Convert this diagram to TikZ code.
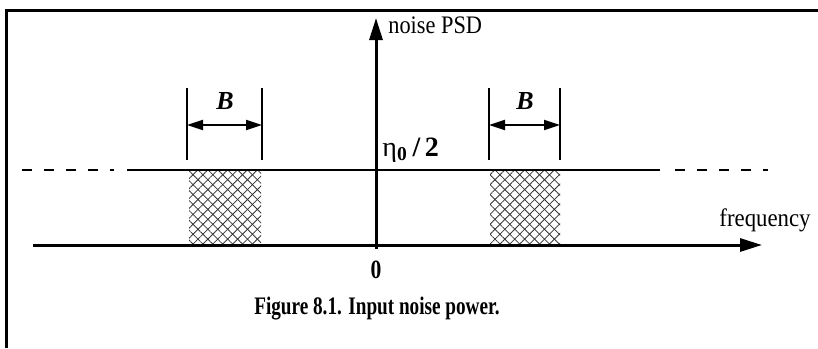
\documentclass[tikz,border=0pt]{standalone}
\usepackage{fontspec}
\setmainfont{Liberation Serif}
\usetikzlibrary{arrows.meta,patterns.meta}
\begin{document}
\begin{tikzpicture}[x=0.5pt,y=-0.5pt,
  frame/.style={line width=1.5pt},
  axis/.style={line width=1.5pt,-{Triangle[length=11pt,width=6.5pt]}},
  level/.style={line width=1pt},
  lvldash/.style={line width=1pt,dash pattern=on 5pt off 6pt},
  bracket/.style={line width=1pt},
  barrow/.style={line width=1pt,{Triangle[length=8pt,width=5pt]}-{Triangle[length=8pt,width=5pt]}},
  hatchA/.style={pattern={Lines[angle=45,distance=3.5pt,line width=0.4pt]},pattern color=black!80},
  hatchB/.style={pattern={Lines[angle=-45,distance=3.5pt,line width=0.4pt]},pattern color=black!80},
  lbl/.style={inner sep=0pt,font=\fontsize{12}{14}\selectfont},
  blbl/.style={inner sep=0pt,font=\fontsize{12}{14}\selectfont\bfseries}]
\useasboundingbox (0,0) rectangle (818,348);
% frame
\draw[frame] (6,348) -- (6,10) -- (818,10);
% hatched bands
\foreach \a/\b in {189/261, 490/560} {
  \fill[hatchA] (\a,170) rectangle (\b,245);
  \fill[hatchB] (\a,170) rectangle (\b,245);
}
% noise level
\draw[lvldash] (22,170) -- (114,170);
\draw[level] (127,170) -- (660,170);
\draw[lvldash] (675,170) -- (768,170);
% axes
\coordinate (hstart) at (33,245);
\coordinate (hend) at (762,245);
\coordinate (vstart) at (376,249);
\coordinate (vend) at (376,18);
\draw[axis] (hstart) -- (hend);
\draw[axis] (vstart) -- (vend);
% brackets
\foreach \n/\a/\b in {L/187/262, R/489/560} {
  \coordinate (\n a1) at (\a,88);
  \coordinate (\n a2) at (\a,160);
  \coordinate (\n b1) at (\b,88);
  \coordinate (\n b2) at (\b,160);
  \coordinate (\n ar1) at (\a,125);
  \coordinate (\n ar2) at (\b,125);
  \draw[bracket] (\n a1) -- (\n a2);
  \draw[bracket] (\n b1) -- (\n b2);
  \draw[barrow] (\n ar1) -- (\n ar2);
}
\node[inner sep=0pt,font=\fontsize{13}{14}\selectfont\bfseries\itshape] (BL) at (225,101) {B};
\node[inner sep=0pt,font=\fontsize{13}{14}\selectfont\bfseries\itshape] (BR) at (525,101) {B};
% labels
\node[lbl,anchor=base west] (psd) at (388,33) {\scalebox{0.93}[1.05]{noise PSD}};
\node[inner sep=0pt,anchor=base west,font=\fontsize{14}{16}\selectfont] (eta) at (382,156) {η\textsubscript{\bfseries 0}\,\textbf{/\,2}};
\node[blbl] (zero) at (376,270) {\scalebox{0.9}[1.1]{0}};
\node[lbl,anchor=base east] (freq) at (811,226) {\scalebox{0.95}[1.05]{frequency}};
\node[blbl] (cap) at (377,309) {\scalebox{0.8}[1.05]{Figure 8.1. Input noise power.}};
\end{tikzpicture}
\end{document}
